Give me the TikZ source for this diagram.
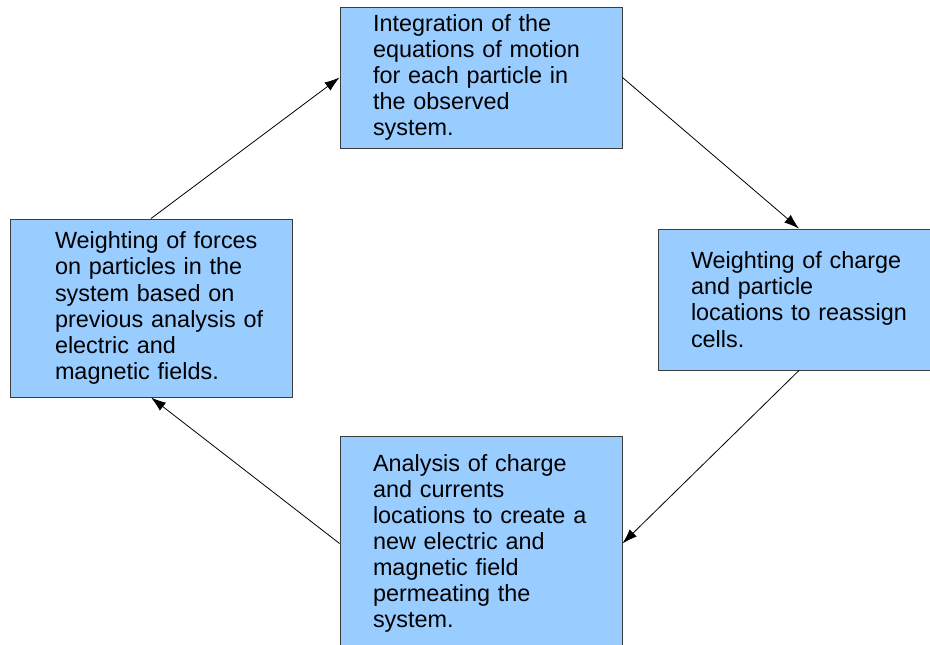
\documentclass[tikz,border=0pt]{standalone}
\usepackage{fontspec}
\setmainfont{Liberation Sans}
\usetikzlibrary{arrows.meta}
\definecolor{boxblue}{RGB}{153,204,255}
\definecolor{boxline}{RGB}{60,60,60}

\begin{document}
\begin{tikzpicture}[x=1pt,y=-1pt,
  font=\fontsize{23.4}{26.1}\selectfont,
  stage/.style={draw=boxline, fill=boxblue, line width=0.9pt, minimum width=282pt,
    inner xsep=19pt, inner ysep=0pt, text width=244pt, align=left,
    execute at begin node={\leftskip=#1}},
  stage/.default=14pt,
  flow/.style={-{Latex[length=15pt,width=10pt]}, line width=0.8pt}]
\useasboundingbox (0,0) rectangle (930,645);
\clip (0,0) rectangle (930,645);
\node [stage, minimum height=141pt] (integ) at (481,77.5)
  {Integration of the\\ equations of motion\\ for each particle in\\ the observed\\ system.};
\node [stage, minimum height=141pt] (charge) at (799,299.5)
  {Weighting of charge\\ and particle\\ locations to reassign\\ cells.};
\node [stage, minimum height=215pt] (field) at (481,543.5)
  {Analysis of charge\\ and currents\\ locations to create a\\ new electric and\\ magnetic field\\ permeating the\\ system.};
\node [stage=26pt, minimum height=178pt] (forces) at (151,308)
  {Weighting of forces\\ on particles in the\\ system based on\\ previous analysis of\\ electric and\\ magnetic fields.};
% the cycle
\draw [flow] (forces.north) -- (integ.west);
\draw [flow] (integ.east) -- (charge.north);
\draw [flow] (charge.south) -- (field.east);
\draw [flow] (field.west) -- (forces.south);
\end{tikzpicture}
\end{document}
